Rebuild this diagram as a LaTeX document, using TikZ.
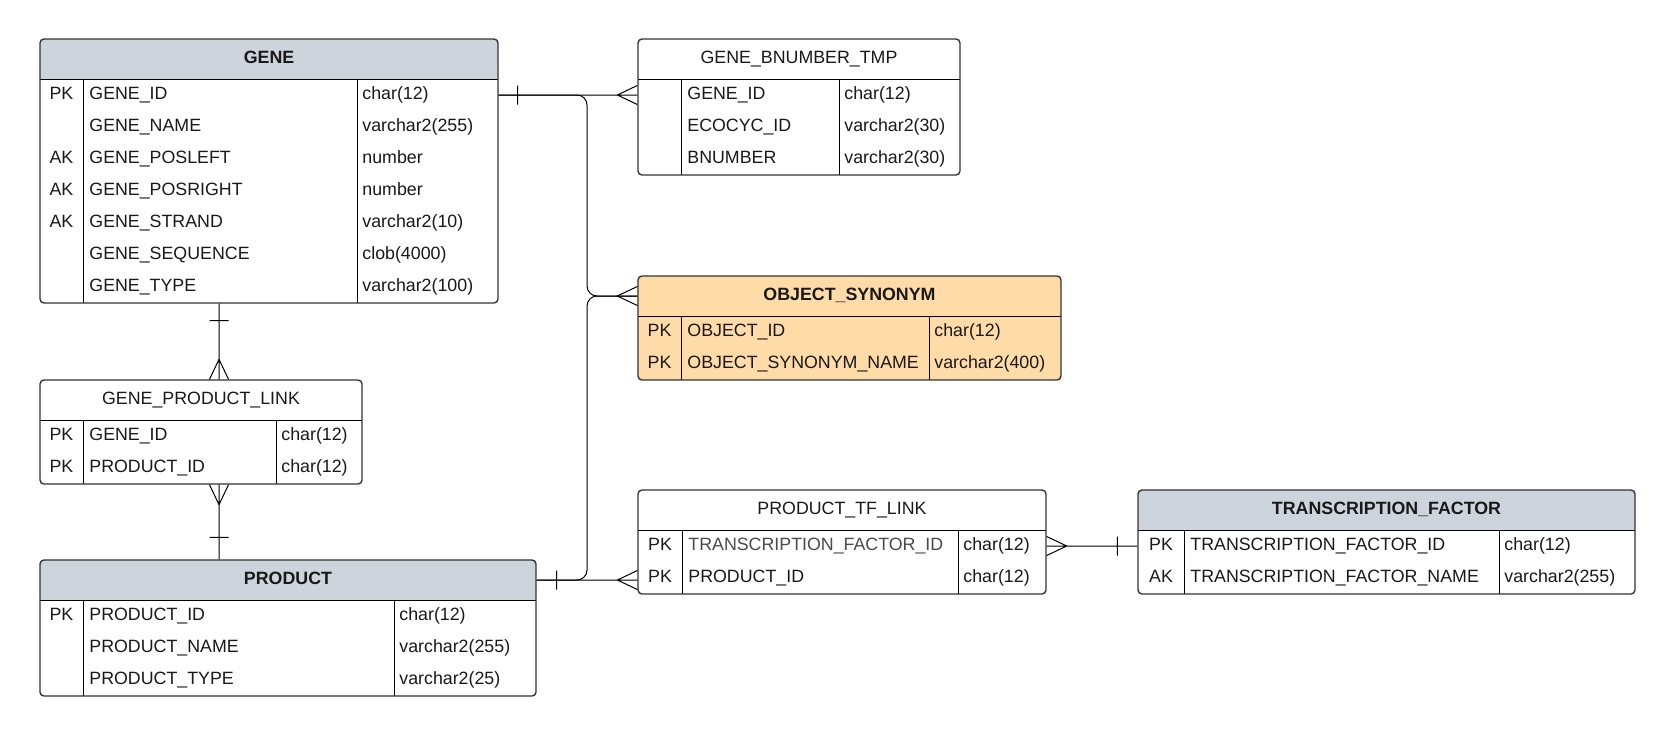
\documentclass[tikz,border=0pt]{standalone}
\usepackage{fontspec}
\setmainfont{Liberation Sans}
\usetikzlibrary{positioning,fit,calc}
\definecolor{hdr}{HTML}{CED4DC}
\definecolor{syn}{HTML}{FFDBA8}
\definecolor{dim}{HTML}{4A4A4A}
\tikzset{
  every node/.style={font=\fontsize{8.9}{10}\selectfont, inner sep=0pt, text height=6.4pt, text depth=2pt, text=black!90},
  tbl/.style={draw=black!80, line width=0.7pt, rounded corners=2pt, inner sep=0pt},
  grid/.style={line width=0.5pt},
  rel/.style={line width=0.5pt},
  cell/.style={anchor=west}
}
\begin{document}
\begin{tikzpicture}[x=0.5pt,y=-0.5pt]
  \useasboundingbox (0,0) rectangle (1676,736);
  \foreach \tb/\xa/\ya/\xb/\n/\ca/\cb/\hd/\bd/\lbl in {
    gene/40/39/498/7/83/357/hdr/white/\textbf{GENE},
    gbt/638/39/960/3/681/839/white/white/GENE\_BNUMBER\_TMP,
    osyn/638/276/1061/2/681/929/syn/syn/\textbf{OBJECT\_SYNONYM},
    gpl/40/380/362/2/83/276/white/white/GENE\_PRODUCT\_LINK,
    prod/40/560/536/3/83/394/hdr/white/\textbf{PRODUCT},
    ptl/638/490/1046/2/682/958/white/white/PRODUCT\_TF\_LINK,
    tf/1138/490/1635/2/1184/1499/hdr/white/\textbf{TRANSCRIPTION\_FACTOR}}
  {
    \pgfmathsetmacro\yb{\ya+40+32*\n}
    \begin{scope}
      \clip[rounded corners=2pt] (\xa,\ya) rectangle (\xb,\yb);
      \fill[\bd] (\xa,\ya) rectangle (\xb,\yb);
      \fill[\hd] (\xa,\ya) rectangle (\xb,\ya+40);
    \end{scope}
    \draw[grid] (\xa,\ya+40) -- (\xb,\ya+40) (\ca,\ya+40) -- (\ca,\yb) (\cb,\ya+40) -- (\cb,\yb);
    \node[tbl, fit={(\xa,\ya) (\xb,\yb)}] (\tb) {};
    \node (\tb-t) at ({(\xa+\xb)/2},\ya+20) {\lbl};
    \coordinate (\tb-l) at (\xa,\ya+40);
    \coordinate (\tb-a) at (\ca,\ya+40);
    \coordinate (\tb-b) at (\cb,\ya+40);
  }
  \foreach \tb/\i/\k/\f/\d in {
    gene/1/PK/GENE\_ID/char(12), gene/2//GENE\_NAME/varchar2(255),
    gene/3/AK/GENE\_POSLEFT/number, gene/4/AK/GENE\_POSRIGHT/number,
    gene/5/AK/GENE\_STRAND/varchar2(10), gene/6//GENE\_SEQUENCE/clob(4000),
    gene/7//GENE\_TYPE/varchar2(100),
    gbt/1//GENE\_ID/char(12), gbt/2//ECOCYC\_ID/varchar2(30), gbt/3//BNUMBER/varchar2(30),
    osyn/1/PK/OBJECT\_ID/char(12), osyn/2/PK/OBJECT\_SYNONYM\_NAME/varchar2(400),
    gpl/1/PK/GENE\_ID/char(12), gpl/2/PK/PRODUCT\_ID/char(12),
    prod/1/PK/PRODUCT\_ID/char(12), prod/2//PRODUCT\_NAME/varchar2(255),
    prod/3//PRODUCT\_TYPE/varchar2(25),
    ptl/1/PK/\textcolor{dim}{TRANSCRIPTION\_FACTOR\_ID}/char(12), ptl/2/PK/PRODUCT\_ID/char(12),
    tf/1/PK/TRANSCRIPTION\_FACTOR\_ID/char(12), tf/2/AK/TRANSCRIPTION\_FACTOR\_NAME/varchar2(255)}
  {
    \node (\tb-\i-k) at ($(\tb-l)!0.5!(\tb-a)+(0,{32*\i-16})$) {\k};
    \node[cell] (\tb-\i-f) at ($(\tb-a)+(6,{32*\i-16})$) {\f};
    \node[cell] (\tb-\i-d) at ($(\tb-b)+(5,{32*\i-16})$) {\d};
  }
  \coordinate (bus) at (587,0);
  \coordinate (gp) at (219,0);
  \draw[rel] (gene.east |- gene-1-f) -- (gbt.west |- gbt-1-f)
    ($(gene.east |- gene-1-f)+(19,-9.5)$) -- ++(0,19)
    ($(gbt.west |- gbt-1-f)+(0,-9.5)$) -- ++(-20,9.5) -- ++(20,9.5);
  \draw[rel, rounded corners=5pt] (gene.east |- gene-1-f) -| (bus |- osyn-t) -- (osyn.west |- osyn-t);
  \draw[rel, rounded corners=5pt] (prod.east |- prod-t) -| (bus |- osyn-t) -- (osyn.west |- osyn-t);
  \draw[rel] ($(osyn.west |- osyn-t)+(0,-9.5)$) -- ++(-20,9.5) -- ++(20,9.5);
  \draw[rel] (prod.east |- prod-t) -- (ptl.west |- prod-t)
    ($(prod.east |- prod-t)+(20,-9.5)$) -- ++(0,19)
    ($(ptl.west |- prod-t)+(0,-9.5)$) -- ++(-20,9.5) -- ++(20,9.5);
  \draw[rel] (gp |- gene.south) -- (gp |- gpl.north)
    ($(gp |- gene.south)+(-9.5,17)$) -- ++(19,0)
    ($(gp |- gpl.north)+(-9.5,0)$) -- ++(9.5,-20) -- ++(9.5,20);
  \draw[rel] (gp |- gpl.south) -- (gp |- prod.north)
    ($(gp |- gpl.south)+(-9.5,0)$) -- ++(9.5,20) -- ++(9.5,-20)
    ($(gp |- prod.north)+(-9.5,-22)$) -- ++(19,0);
  \draw[rel] (ptl.east |- ptl-1-f) -- (tf.west |- tf-1-f)
    ($(ptl.east |- ptl-1-f)+(0,-9.5)$) -- ++(20,9.5) -- ++(-20,9.5)
    ($(tf.west |- tf-1-f)+(-20,-9.5)$) -- ++(0,19);
\end{tikzpicture}
\end{document}
